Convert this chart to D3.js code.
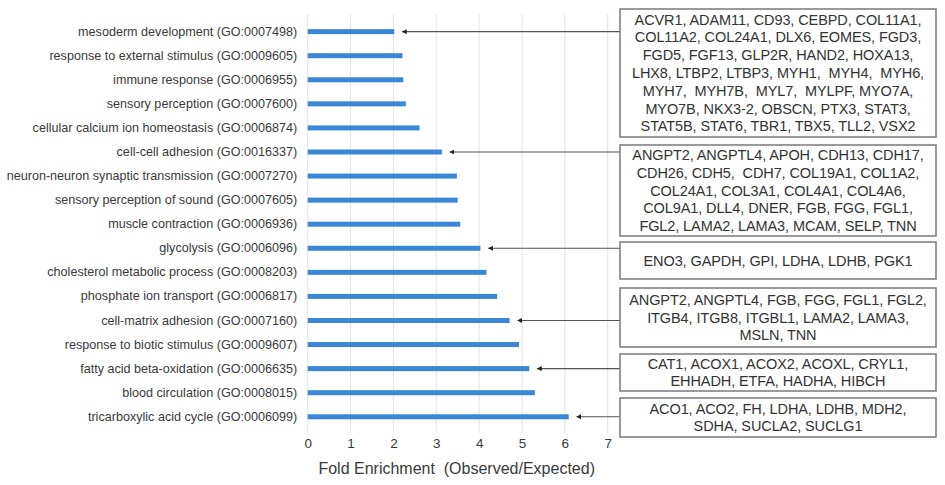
<!DOCTYPE html>
<html>
<head>
<meta charset="utf-8">
<script src="https://cdn.jsdelivr.net/npm/d3@7"></script>
<style>
  html, body { margin: 0; padding: 0; background: #ffffff; }
  svg { display: block; font-family: "Liberation Sans", Arial, sans-serif; }
</style>
</head>
<body>
<svg id="chart" width="945" height="485"></svg>
<script>
// ---------- data ----------
const categories = [
  "mesoderm development (GO:0007498)",
  "response to external stimulus (GO:0009605)",
  "immune response (GO:0006955)",
  "sensory perception (GO:0007600)",
  "cellular calcium ion homeostasis (GO:0006874)",
  "cell-cell adhesion (GO:0016337)",
  "neuron-neuron synaptic transmission (GO:0007270)",
  "sensory perception of sound (GO:0007605)",
  "muscle contraction (GO:0006936)",
  "glycolysis (GO:0006096)",
  "cholesterol metabolic process (GO:0008203)",
  "phosphate ion transport (GO:0006817)",
  "cell-matrix adhesion (GO:0007160)",
  "response to biotic stimulus (GO:0009607)",
  "fatty acid beta-oxidation (GO:0006635)",
  "blood circulation (GO:0008015)",
  "tricarboxylic acid cycle (GO:0006099)"
];
const foldEnrichment = [2.02, 2.21, 2.23, 2.29, 2.61, 3.13, 3.48, 3.50, 3.56, 4.03, 4.17, 4.42, 4.71, 4.93, 5.17, 5.30, 6.09];
const xTicks = [0, 1, 2, 3, 4, 5, 6, 7];
const xTitle = "Fold Enrichment  (Observed/Expected)";

// gene lists annotated with arrows (target category, text lines)
const annotTargets = [
  "mesoderm development (GO:0007498)",
  "cell-cell adhesion (GO:0016337)",
  "glycolysis (GO:0006096)",
  "cell-matrix adhesion (GO:0007160)",
  "fatty acid beta-oxidation (GO:0006635)",
  "tricarboxylic acid cycle (GO:0006099)"
];
const annotGenes = [
  ["ACVR1, ADAM11, CD93, CEBPD, COL11A1,",
   "COL11A2, COL24A1, DLX6, EOMES, FGD3,",
   "FGD5, FGF13, GLP2R, HAND2, HOXA13,",
   "LHX8, LTBP2, LTBP3, MYH1,  MYH4,  MYH6,",
   "MYH7,  MYH7B,  MYL7,  MYLPF, MYO7A,",
   "MYO7B, NKX3-2, OBSCN, PTX3, STAT3,",
   "STAT5B, STAT6, TBR1, TBX5, TLL2, VSX2"],
  ["ANGPT2, ANGPTL4, APOH, CDH13, CDH17,",
   "CDH26, CDH5,  CDH7, COL19A1, COL1A2,",
   "COL24A1, COL3A1, COL4A1, COL4A6,",
   "COL9A1, DLL4, DNER, FGB, FGG, FGL1,",
   "FGL2, LAMA2, LAMA3, MCAM, SELP, TNN"],
  ["ENO3, GAPDH, GPI, LDHA, LDHB, PGK1"],
  ["ANGPT2, ANGPTL4, FGB, FGG, FGL1, FGL2,",
   "ITGB4, ITGB8, ITGBL1, LAMA2, LAMA3,",
   "MSLN, TNN"],
  ["CAT1, ACOX1, ACOX2, ACOXL, CRYL1,",
   "EHHADH, ETFA, HADHA, HIBCH"],
  ["ACO1, ACO2, FH, LDHA, LDHB, MDH2,",
   "SDHA, SUCLA2, SUCLG1"]
];

// ---------- layout (pixels) ----------
const plotLeft = 307.7, plotRight = 607.7, plotTop = 19.6, plotBottom = 428.8;
const boxLeft = 620, boxRight = 936;
const boxTops    = [9, 145, 242, 288, 354, 398];
const boxBottoms = [137, 236, 279, 347, 391, 437];
const lineH = 17.8;

const svg = d3.select("#chart");

const x = d3.scaleLinear().domain([0, 7]).range([plotLeft, plotRight]);
const y = d3.scaleBand().domain(categories).range([plotTop, plotBottom]).padding(0);

// gridlines
svg.append("g").selectAll("line").data(xTicks).join("line")
  .attr("x1", d => x(d)).attr("x2", d => x(d))
  .attr("y1", 14).attr("y2", 433)
  .attr("stroke", "#e3e3e3").attr("stroke-width", 1);

// x axis tick labels via d3 axis
const xAxis = d3.axisBottom(x).tickValues(xTicks).tickSize(0).tickPadding(0).tickFormat(d3.format("d"));
const gx = svg.append("g").attr("transform", "translate(0,438.5)").call(xAxis);
gx.select(".domain").remove();
gx.selectAll("text").attr("font-size", 13.5).attr("fill", "#3a3a3a")
  .attr("font-family", "Liberation Sans, Arial, sans-serif");

svg.append("text")
  .attr("x", (x(0) + x(7)) / 2 - 1).attr("y", 473.5)
  .attr("text-anchor", "middle").attr("font-size", 16).attr("fill", "#3a3a3a")
  .attr("xml:space", "preserve").style("white-space", "pre")
  .text(xTitle);

// y labels via d3 axis
const yAxis = d3.axisLeft(y).tickSize(0).tickPadding(10.5);
const gy = svg.append("g").attr("transform", `translate(${plotLeft},0)`).call(yAxis);
gy.select(".domain").remove();
gy.selectAll("text").attr("font-size", 12.6).attr("fill", "#3a3a3a")
  .attr("font-family", "Liberation Sans, Arial, sans-serif");

// bars
const barH = 5;
svg.append("g").selectAll("rect").data(categories).join("rect")
  .attr("x", x(0))
  .attr("y", d => y(d) + y.bandwidth() / 2 - barH / 2)
  .attr("width", (d, i) => x(foldEnrichment[i]) - x(0))
  .attr("height", barH)
  .attr("fill", "#3a87d8");

// arrow marker
svg.append("defs").append("marker")
  .attr("id", "arr").attr("viewBox", "0 0 10 10")
  .attr("refX", 9).attr("refY", 5)
  .attr("markerWidth", 5).attr("markerHeight", 5)
  .attr("markerUnits", "userSpaceOnUse")
  .attr("orient", "auto-start-reverse")
  .append("path").attr("d", "M0,0 L10,5 L0,10 z").attr("fill", "#222");

// annotation boxes + arrows
annotTargets.forEach((cat, k) => {
  const i = categories.indexOf(cat);
  const cy = y(cat) + y.bandwidth() / 2;
  svg.append("line")
    .attr("x1", boxLeft).attr("x2", x(foldEnrichment[i]) + 8)
    .attr("y1", cy).attr("y2", cy)
    .attr("stroke", "#555").attr("stroke-width", 1.2)
    .attr("marker-end", "url(#arr)");

  const top = boxTops[k], bot = boxBottoms[k];
  svg.append("rect")
    .attr("x", boxLeft).attr("y", top)
    .attr("width", boxRight - boxLeft).attr("height", bot - top)
    .attr("fill", "#fff").attr("stroke", "#7a7a7a").attr("stroke-width", 1.5);

  const lines = annotGenes[k];
  const mid = (top + bot) / 2;
  const t = svg.append("text")
    .attr("text-anchor", "middle").attr("font-size", 14.5).attr("fill", "#333")
    .attr("letter-spacing", "-0.1")
    .attr("xml:space", "preserve").style("white-space", "pre");
  lines.forEach((ln, j) => {
    t.append("tspan")
      .attr("x", (boxLeft + boxRight) / 2)
      .attr("y", mid + (j - (lines.length - 1) / 2) * lineH)
      .attr("dy", "0.35em")
      .text(ln);
  });
});
</script>
</body>
</html>
